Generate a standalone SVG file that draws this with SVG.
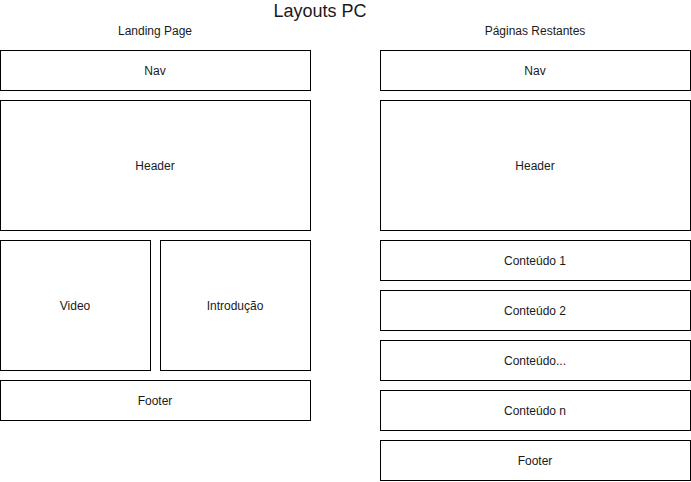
<svg xmlns="http://www.w3.org/2000/svg" width="691" height="482" viewBox="0 0 691 482">
<style>
rect.b{fill:#fff;stroke:#000;stroke-width:1}
text{font-family:"Liberation Sans",Arial,sans-serif;font-size:12px;fill:#1a1a1a;text-anchor:middle;dominant-baseline:central}
text.t{font-size:18px}
</style>
<rect width="691" height="482" fill="#fff"/>
<text class="t" x="320" y="11">Layouts PC</text>
<text x="155" y="31">Landing Page</text>
<text x="535" y="31">Páginas Restantes</text>
<g id="l-nav"><rect class="b" x="0.5" y="50.5" width="310" height="40"/><text x="155" y="71">Nav</text></g>
<g id="l-header"><rect class="b" x="0.5" y="100.5" width="310" height="130"/><text x="155" y="166">Header</text></g>
<g id="l-video"><rect class="b" x="0.5" y="240.5" width="150" height="130"/><text x="75" y="306">Video</text></g>
<g id="l-intro"><rect class="b" x="160.5" y="240.5" width="150" height="130"/><text x="235" y="306">Introdução</text></g>
<g id="l-footer"><rect class="b" x="0.5" y="380.5" width="310" height="40"/><text x="155" y="401">Footer</text></g>
<g id="r-nav"><rect class="b" x="380.5" y="50.5" width="310" height="40"/><text x="535" y="71">Nav</text></g>
<g id="r-header"><rect class="b" x="380.5" y="100.5" width="310" height="130"/><text x="535" y="166">Header</text></g>
<g id="r-c1"><rect class="b" x="380.5" y="240.5" width="310" height="40"/><text x="535" y="261">Conteúdo 1</text></g>
<g id="r-c2"><rect class="b" x="380.5" y="290.5" width="310" height="40"/><text x="535" y="311">Conteúdo 2</text></g>
<g id="r-c3"><rect class="b" x="380.5" y="340.5" width="310" height="40"/><text x="535" y="361">Conteúdo...</text></g>
<g id="r-cn"><rect class="b" x="380.5" y="390.5" width="310" height="40"/><text x="535" y="411">Conteúdo n</text></g>
<g id="r-footer"><rect class="b" x="380.5" y="440.5" width="310" height="40"/><text x="535" y="461">Footer</text></g>
<g id="connectors"/>
</svg>
